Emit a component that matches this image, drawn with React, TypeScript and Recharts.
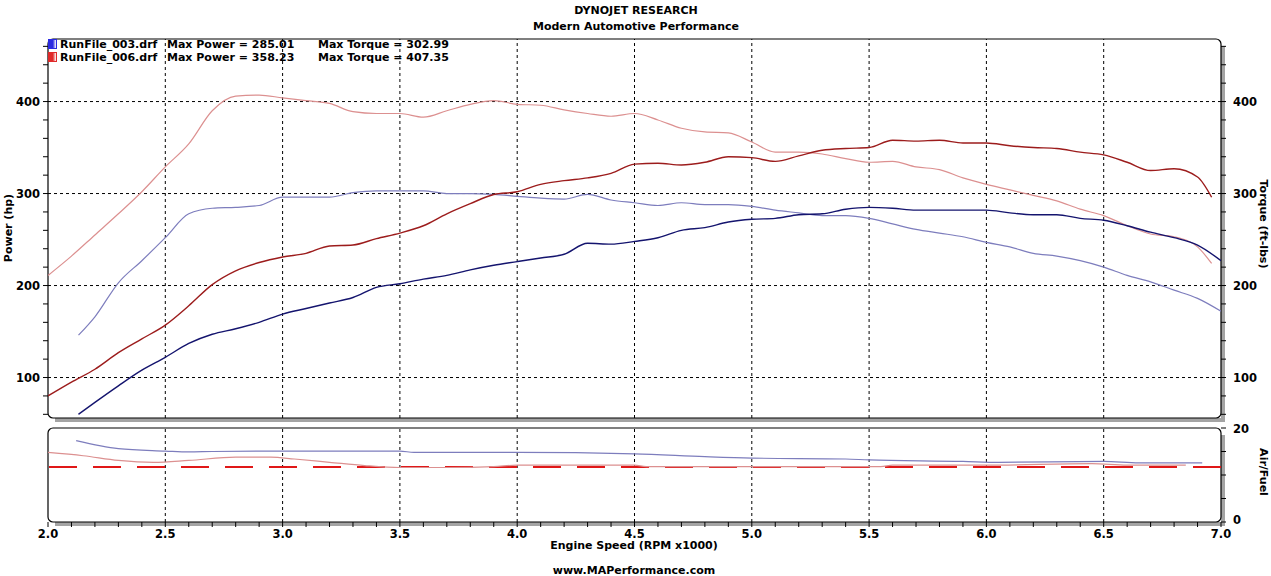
import React from 'react';
import { LineChart, Line, XAxis, YAxis, ReferenceLine, ReferenceArea } from 'recharts';

// ---------- data ----------
const rpm006 = [2.0, 2.1, 2.2, 2.3, 2.4, 2.5, 2.6, 2.7, 2.8, 2.9, 3.0, 3.1, 3.2, 3.3, 3.4, 3.5, 3.6, 3.7, 3.8, 3.9, 4.0, 4.1, 4.2, 4.3, 4.4, 4.5, 4.6, 4.7, 4.8, 4.9, 5.0, 5.1, 5.2, 5.3, 5.4, 5.5, 5.6, 5.7, 5.8, 5.9, 6.0, 6.1, 6.2, 6.3, 6.4, 6.5, 6.6, 6.7, 6.8, 6.9, 6.96];
const power006 = [80, 95, 109, 127, 142, 157, 178, 201, 216, 225, 231, 235, 243, 244, 251, 257, 265, 278, 289, 299, 302, 310, 314, 317, 322, 332, 333, 331, 334, 340, 339, 335, 341, 347, 349, 350, 358, 357, 358, 355, 355, 352, 350, 349, 345, 342, 334, 325, 327, 318, 296];
const torque006 = [211, 232, 255, 278, 302, 329, 354, 390, 406, 407, 404, 401, 398, 389, 387, 387, 383, 390, 397, 401, 397, 396, 391, 387, 384, 387, 380, 371, 367, 366, 356, 345, 345, 343, 338, 334, 335, 329, 326, 317, 310, 304, 298, 292, 283, 276, 265, 256, 253, 242, 224];

const rpm003 = [2.13, 2.2, 2.3, 2.4, 2.5, 2.6, 2.7, 2.8, 2.9, 3.0, 3.1, 3.2, 3.3, 3.4, 3.5, 3.6, 3.7, 3.8, 3.9, 4.0, 4.1, 4.2, 4.3, 4.4, 4.5, 4.6, 4.7, 4.8, 4.9, 5.0, 5.1, 5.2, 5.3, 5.4, 5.5, 5.6, 5.7, 5.8, 5.9, 6.0, 6.1, 6.2, 6.3, 6.4, 6.5, 6.6, 6.7, 6.8, 6.9, 7.0];
const power003 = [60, 73, 91, 108, 122, 137, 147, 153, 160, 169, 175, 181, 187, 198, 202, 207, 211, 217, 222, 226, 230, 234, 246, 245, 248, 252, 260, 263, 269, 272, 273, 277, 278, 283, 285, 284, 282, 282, 282, 282, 279, 277, 277, 273, 271, 265, 258, 252, 244, 227];
const torque003 = [146, 166, 203, 227, 252, 278, 284, 285, 287, 296, 296, 296, 301, 303, 303, 303, 300, 300, 299, 297, 295, 294, 299, 293, 290, 287, 290, 288, 288, 286, 282, 279, 276, 276, 273, 267, 261, 257, 253, 247, 242, 235, 232, 227, 220, 211, 204, 195, 186, 172];

const afrRpm003 = [2.12, 2.3, 2.5, 2.6, 2.7, 3.0, 3.5, 3.56, 4.0, 4.5, 4.8, 5.0, 5.4, 5.5, 5.9, 6.05, 6.5, 6.65, 6.92];
const afr003 = [17.3, 15.6, 15.1, 14.9, 15.0, 15.1, 15.1, 14.8, 14.8, 14.5, 13.9, 13.6, 13.4, 13.2, 12.9, 12.7, 12.9, 12.6, 12.6];
const afrRpm006 = [2.0, 2.15, 2.3, 2.45, 2.6, 2.8, 2.95, 3.05, 3.2, 3.35, 3.5, 3.7, 3.9, 4.0, 4.5, 4.55, 5.0, 5.55, 5.6, 6.0, 6.45, 6.6, 6.85];
const afr006 = [14.8, 14.1, 13.1, 12.7, 13.1, 13.8, 13.8, 13.4, 12.7, 12.0, 11.6, 11.6, 11.8, 12.1, 12.1, 11.8, 11.8, 11.8, 12.1, 12.1, 12.4, 12.1, 12.1];
const afrTarget = [11.7];

const rpmTicks = [2.0, 2.1, 2.2, 2.3, 2.4, 2.5, 2.6, 2.7, 2.8, 2.9, 3.0, 3.1, 3.2, 3.3, 3.4, 3.5, 3.6, 3.7, 3.8, 3.9, 4.0, 4.1, 4.2, 4.3, 4.4, 4.5, 4.6, 4.7, 4.8, 4.9, 5.0, 5.1, 5.2, 5.3, 5.4, 5.5, 5.6, 5.7, 5.8, 5.9, 6.0, 6.1, 6.2, 6.3, 6.4, 6.5, 6.6, 6.7, 6.8, 6.9, 7.0];
const rpmGrid = [2.5, 3.0, 3.5, 4.0, 4.5, 5.0, 5.5, 6.0, 6.5];
const powerTicks = [60, 80, 100, 120, 140, 160, 180, 200, 220, 240, 260, 280, 300, 320, 340, 360, 380, 400, 420, 440, 460];
const powerGrid = [100, 200, 300, 400];
const afrTicks = [0, 5, 10, 15, 20];
const afrLabels = [0, 20];

const legendRows = [
  { file: 'RunFile_003.drf', power: 'Max Power = 285.01', torque: 'Max Torque = 302.99', color: '#2a2ae0' },
  { file: 'RunFile_006.drf', power: 'Max Power = 358.23', torque: 'Max Torque = 407.35', color: '#e02a2a' },
];

const series006 = rpm006.map((r, i) => ({ rpm: r, power: power006[i], torque: torque006[i] }));
const series003 = rpm003.map((r, i) => ({ rpm: r, power: power003[i], torque: torque003[i] }));
const afrSeries003 = afrRpm003.map((r, i) => ({ rpm: r, afr: afr003[i] }));
const afrSeries006 = afrRpm006.map((r, i) => ({ rpm: r, afr: afr006[i] }));

const FONT = '"DejaVu Sans", Verdana, sans-serif';
const C_PWR3 = '#14146e';
const C_TRQ3 = '#7d7dbd';
const C_PWR6 = '#9c1c1c';
const C_TRQ6 = '#dc9090';

const Frame = (props: any) => {
  const { x, y, width, height } = props;
  const s = 4;
  const r = 5;
  const shadow = `M ${x + width} ${y + r + 2} L ${x + width + s} ${y + r + 2} L ${x + width + s} ${y + height + s} L ${x + r + 2} ${y + height + s} L ${x + r + 2} ${y + height} L ${x + width} ${y + height} Z`;
  return (
    <g>
      <path d={shadow} fill="#a4a4a4" stroke="none" />
      <rect x={x} y={y} width={width} height={height} rx={r} ry={r} fill="none" stroke="#000" strokeWidth={1.2} />
    </g>
  );
};

const LeftTick = (props: any) => {
  const { x, y, payload } = props;
  if (payload.value % 100 !== 0) return null;
  return (
    <text x={x - 1} y={y} dy={4} textAnchor="end" fontFamily={FONT} fontWeight="bold" fontSize={11.5} fill="#000">
      {payload.value}
    </text>
  );
};

const RightTick = (props: any) => {
  const { x, y, payload } = props;
  if (payload.value % 100 !== 0) return null;
  return (
    <text x={x} y={y} dy={4} textAnchor="start" fontFamily={FONT} fontWeight="bold" fontSize={11.5} fill="#000">
      {payload.value}
    </text>
  );
};

const AfrTick = (props: any) => {
  const { x, y, payload } = props;
  if (!afrLabels.includes(payload.value)) return null;
  return (
    <text x={x} y={y} dy={payload.value === 0 ? 2 : 5} textAnchor="start" fontFamily={FONT} fontWeight="bold" fontSize={11.5} fill="#000">
      {payload.value}
    </text>
  );
};

const RpmTick = (props: any) => {
  const { x, y, payload } = props;
  const v = payload.value;
  if (Math.abs(v * 2 - Math.round(v * 2)) > 1e-6) return null;
  return (
    <text x={x} y={y} dy={9} textAnchor="middle" fontFamily={FONT} fontWeight="bold" fontSize={11.5} fill="#000">
      {v.toFixed(1)}
    </text>
  );
};

const textStyle: React.CSSProperties = {
  position: 'absolute',
  fontFamily: FONT,
  fontWeight: 'bold',
  fontSize: 11,
  color: '#000',
  whiteSpace: 'nowrap',
  lineHeight: '13px',
};

export default function App() {
  return (
    <div style={{ position: 'absolute', left: 0, top: 0, width: 1271, height: 576, background: '#fff', overflow: 'hidden' }}>
      <div style={{ ...textStyle, left: 636, top: 10, transform: 'translate(-50%,-50%)' }}>DYNOJET RESEARCH</div>
      <div style={{ ...textStyle, left: 636, top: 26, transform: 'translate(-50%,-50%)' }}>Modern Automotive Performance</div>

      <div style={{ position: 'absolute', left: 0, top: 0 }}>
        <LineChart width={1271} height={430} margin={{ top: 39, right: 0, bottom: 12, left: 0 }}>
          <XAxis xAxisId="x" type="number" dataKey="rpm" domain={[2, 7]} allowDataOverflow hide />
          <YAxis
            yAxisId="l"
            orientation="left"
            type="number"
            width={48}
            domain={[56, 468]}
            allowDataOverflow
            ticks={powerTicks}
            interval={0}
            axisLine={false}
            tickLine={{ stroke: '#000' }}
            tickSize={5}
            tick={<LeftTick />}
          />
          <YAxis
            yAxisId="r"
            orientation="right"
            type="number"
            width={50}
            domain={[56, 468]}
            allowDataOverflow
            ticks={powerTicks}
            interval={0}
            axisLine={false}
            tickLine={{ stroke: '#000' }}
            tickSize={5}
            tickMargin={7}
            tick={<RightTick />}
          />
          {rpmGrid.map((v) => (
            <ReferenceLine key={'vx' + v} xAxisId="x" yAxisId="l" x={v} stroke="#000" strokeDasharray="3 3" strokeWidth={1} />
          ))}
          {powerGrid.map((v) => (
            <ReferenceLine key={'hy' + v} xAxisId="x" yAxisId="l" y={v} stroke="#000" strokeDasharray="3 3" strokeWidth={1} />
          ))}
          <ReferenceArea xAxisId="x" yAxisId="l" x1={2} x2={7} y1={56} y2={468} shape={<Frame />} ifOverflow="visible" />
          <Line xAxisId="x" yAxisId="l" data={series003} dataKey="torque" type="monotone" stroke={C_TRQ3} strokeWidth={1.2} dot={false} isAnimationActive={false} />
          <Line xAxisId="x" yAxisId="l" data={series006} dataKey="torque" type="monotone" stroke={C_TRQ6} strokeWidth={1.2} dot={false} isAnimationActive={false} />
          <Line xAxisId="x" yAxisId="l" data={series003} dataKey="power" type="monotone" stroke={C_PWR3} strokeWidth={1.4} dot={false} isAnimationActive={false} />
          <Line xAxisId="x" yAxisId="l" data={series006} dataKey="power" type="monotone" stroke={C_PWR6} strokeWidth={1.4} dot={false} isAnimationActive={false} />
        </LineChart>
      </div>

      <div style={{ position: 'absolute', left: 0, top: 420 }}>
        <LineChart width={1271} height={130} margin={{ top: 8, right: 0, bottom: 0, left: 48 }}>
          <XAxis
            xAxisId="x"
            type="number"
            dataKey="rpm"
            domain={[2, 7]}
            allowDataOverflow
            ticks={rpmTicks}
            interval={0}
            height={28}
            axisLine={false}
            tickLine={{ stroke: '#000' }}
            tickSize={5}
            tick={<RpmTick />}
          />
          <YAxis
            yAxisId="r"
            orientation="right"
            type="number"
            width={50}
            domain={[0, 20]}
            ticks={afrTicks}
            interval={0}
            axisLine={false}
            tickLine={{ stroke: '#000' }}
            tickSize={5}
            tickMargin={7}
            tick={<AfrTick />}
          />
          {rpmGrid.map((v) => (
            <ReferenceLine key={'avx' + v} xAxisId="x" yAxisId="r" x={v} stroke="#000" strokeDasharray="3 3" strokeWidth={1} />
          ))}
          <ReferenceArea xAxisId="x" yAxisId="r" x1={2} x2={7} y1={0} y2={20} shape={<Frame />} ifOverflow="visible" />
          {afrTarget.map((v) => (
            <ReferenceLine key={'t' + v} xAxisId="x" yAxisId="r" y={v} stroke="#e01818" strokeDasharray="28 16" strokeWidth={2} />
          ))}
          <Line xAxisId="x" yAxisId="r" data={afrSeries003} dataKey="afr" type="monotone" stroke={C_TRQ3} strokeWidth={1.2} dot={false} isAnimationActive={false} />
          <Line xAxisId="x" yAxisId="r" data={afrSeries006} dataKey="afr" type="monotone" stroke={C_TRQ6} strokeWidth={1.2} dot={false} isAnimationActive={false} />
        </LineChart>
      </div>

      {legendRows.map((row, i) => (
        <React.Fragment key={row.file}>
          <div
            style={{
              position: 'absolute',
              left: 48,
              top: 39 + i * 13,
              width: 9,
              height: 10,
              background: `linear-gradient(90deg, ${row.color} 0%, ${row.color} 55%, #ffffff 100%)`,
              border: '1px solid ' + row.color,
              boxSizing: 'border-box',
            }}
          />
          <div style={{ ...textStyle, left: 60, top: 38 + i * 13 }}>{row.file}</div>
          <div style={{ ...textStyle, left: 167, top: 38 + i * 13 }}>{row.power}</div>
          <div style={{ ...textStyle, left: 318, top: 38 + i * 13 }}>{row.torque}</div>
        </React.Fragment>
      ))}

      <div style={{ ...textStyle, left: 8, top: 228, transform: 'translate(-50%,-50%) rotate(-90deg)' }}>Power (hp)</div>
      <div style={{ ...textStyle, left: 1263, top: 224, transform: 'translate(-50%,-50%) rotate(90deg)' }}>Torque (ft-lbs)</div>
      <div style={{ ...textStyle, left: 1263, top: 472, transform: 'translate(-50%,-50%) rotate(90deg)' }}>Air/Fuel</div>
      <div style={{ ...textStyle, left: 634, top: 545, transform: 'translate(-50%,-50%)' }}>Engine Speed (RPM x1000)</div>
      <div style={{ ...textStyle, left: 634, top: 570, transform: 'translate(-50%,-50%)' }}>www.MAPerformance.com</div>
    </div>
  );
}
